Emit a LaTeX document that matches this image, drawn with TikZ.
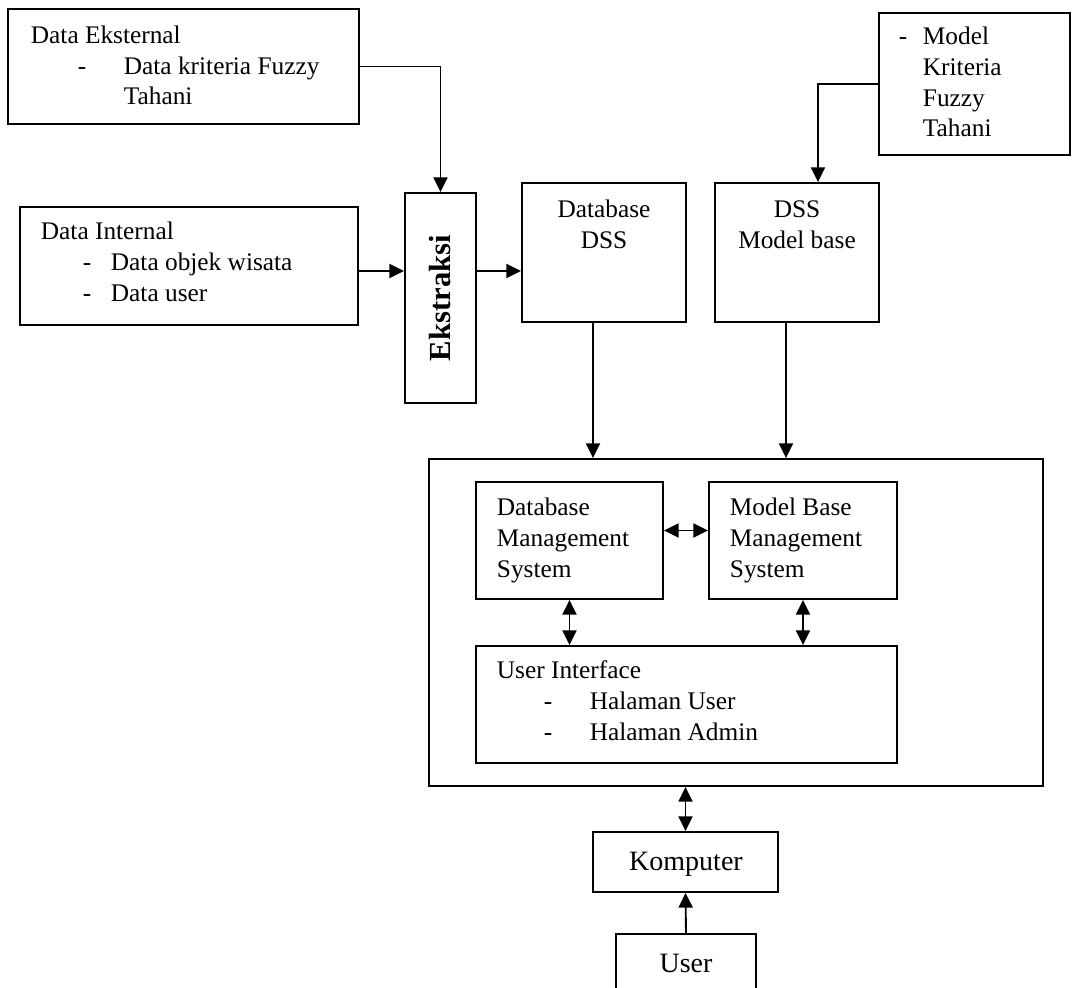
\documentclass[tikz,border=0pt]{standalone}
\usepackage{fontspec}
\setmainfont{Liberation Serif}
\usepackage{tikz}
\usetikzlibrary{positioning,arrows.meta,calc,fit}

\begin{document}
\begin{tikzpicture}[
    x=0.75pt, y=-0.75pt,
    line width=1.4pt,
    >={Triangle[length=11pt,width=10.5pt]},
    box/.style={draw, rectangle, inner sep=0pt},
    txt/.style={anchor=base west, align=left, inner sep=0pt, font=\fontsize{19}{23}\selectfont},
    ctxt/.style={anchor=base, align=center, inner sep=0pt, font=\fontsize{19}{23}\selectfont},
    big/.style={anchor=base, inner sep=0pt, font=\fontsize{21}{25}\selectfont}
]
    \useasboundingbox (0,0) rectangle (1072,988);

    \node[box, fit={(8,9) (359,124)}] (ext) {};
    \node[box, fit={(20,207) (358,325)}] (int) {};
    \node[box, fit={(405,193) (476,403)}] (ekstr) {};
    \node[box, fit={(522,183) (686,322)}] (dbdss) {};
    \node[box, fit={(715,183) (879,322)}] (dssmb) {};
    \node[box, fit={(879,13) (1070,155)}] (model) {};
    \node[box, fit={(429,459) (1043,786)}] (outer) {};
    \node[box, fit={(476,482) (663,599)}] (dbms) {};
    \node[box, fit={(709,482) (897,599)}] (mbms) {};
    \node[box, fit={(476,646) (897,763)}] (ui) {};
    \node[box, fit={(593,832) (778,892)}] (komp) {};
    \node[box, fit={(616,934) (756,1000)}] (user) {};

    \node[txt] (ext-t) at (30,105) {Data Eksternal\\
        \makebox[69.75pt][l]{\hspace*{35.25pt}-}Data kriteria Fuzzy\\
        \hspace*{69.75pt}Tahani};
    \node[txt] (int-t) at (40,301) {Data Internal\\
        \makebox[52.5pt][l]{\hspace*{31.5pt}-}Data objek wisata\\
        \makebox[52.5pt][l]{\hspace*{31.5pt}-}Data user};
    \node[rotate=90, inner sep=0pt, font=\fontsize{23}{27}\selectfont\bfseries] (ekstr-t) at (ekstr.center) {Ekstraksi};
    \node[ctxt] (dbdss-t) at (604,248) {Database\\DSS};
    \node[ctxt] (dssmb-t) at (797,248) {DSS\\Model base};
    \node[txt] (model-t) at (898,137) {\makebox[18pt][l]{-}Model\\
        \hspace*{18pt}Kriteria\\
        \hspace*{18pt}Fuzzy\\
        \hspace*{18pt}Tahani};
    \node[txt] (dbms-t) at (496,577) {Database\\Management\\System};
    \node[txt] (mbms-t) at (729,577) {Model Base\\Management\\System};
    \node[txt] (ui-t) at (496,740) {User Interface\\
        \makebox[69.75pt][l]{\hspace*{35.25pt}-}Halaman User\\
        \makebox[69.75pt][l]{\hspace*{35.25pt}-}Halaman Admin};
    \node[big] (komp-t) at (686,870) {Komputer};
    \node[big] (user-t) at (686,972) {User};

    \coordinate (ek-in) at ([yshift=-3.75pt]int.east);
    \coordinate (dbdss-out) at ($(dbdss.south)+(-11,0)$);
    \coordinate (dssmb-out) at ($(dssmb.south)+(-11,0)$);
    \coordinate (dssmb-in) at ($(dssmb.north)+(21,0)$);
    \coordinate (dbms-mid) at ([yshift=7.5pt]dbms.east);

    \draw[->] (ext.east) -| (ekstr.north);
    \draw[->] (ek-in) -- (ek-in -| ekstr.west);
    \draw[->] (ek-in -| ekstr.east) -- (ek-in -| dbdss.west);
    \draw[->] (model.west) -| (dssmb-in);
    \draw[->] (dbdss-out) -- (dbdss-out |- outer.north);
    \draw[->] (dssmb-out) -- (dssmb-out |- outer.north);
    \draw[<->] (dbms-mid) -- (dbms-mid -| mbms.west);
    \draw[<->] (dbms.south) -- (dbms.south |- ui.north);
    \draw[<->] (mbms.south) -- (mbms.south |- ui.north);
    \draw[<->] (komp.north |- outer.south) -- (komp.north);
    \draw[->] (user.north) -- (komp.south);
\end{tikzpicture}
\end{document}
